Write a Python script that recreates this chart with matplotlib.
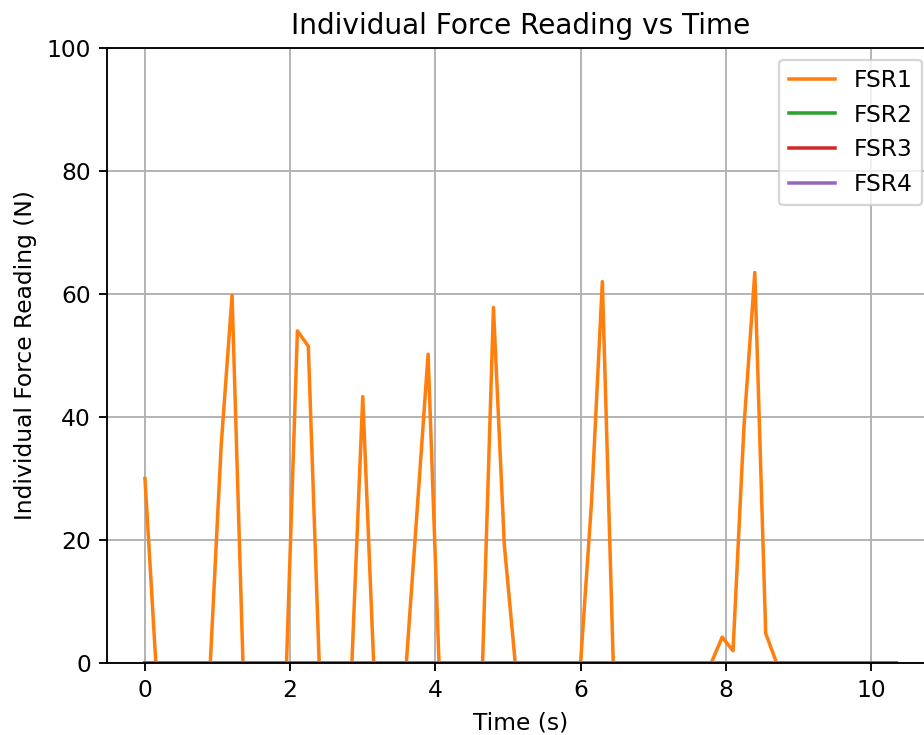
import numpy as np
import matplotlib
matplotlib.use("Agg")
import matplotlib.pyplot as plt

# time samples every 0.15 s
time_s = np.round(np.arange(70) * 0.15, 2)

fsr1 = [30.0, 0, 0, 0, 0, 0, 0, 35.4, 59.8, 0,
        0, 0, 0, 0, 54.0, 51.5, 0, 0, 0, 0,
        43.3, 0, 0, 0, 0, 25.0, 50.2, 0, 0, 0,
        0, 0, 57.8, 19.2, 0, 0, 0, 0, 0, 0,
        0, 26.0, 62.0, 0, 0, 0, 0, 0, 0, 0,
        0, 0, 0, 4.2, 2.0, 38.4, 63.5, 4.8, 0, 0,
        0, 0, 0, 0, 0, 0, 0, 0, 0, 0]
fsr2 = [0] * 70
fsr3 = [0] * 70
fsr4 = [0] * 70

labels = ['FSR1', 'FSR2', 'FSR3', 'FSR4']
colors = ['tab:orange', 'tab:green', 'tab:red', 'tab:purple']

DPI = 168
fig = plt.figure(figsize=(924 / DPI, 735 / DPI), dpi=DPI)
ax = fig.add_axes([0.1162, 0.098, 0.8946, 0.8367])

for vals, lab, col in zip([fsr1, fsr2, fsr3, fsr4], labels, colors):
    ax.plot(time_s, vals, color=col, label=lab)

ax.set_ylim(0, 100)
ax.set_title('Individual Force Reading vs Time')
ax.set_xlabel('Time (s)')
ax.set_ylabel('Individual Force Reading (N)')
ax.grid(True)
ax.legend(loc='upper right')

fig.savefig('out.png', dpi=DPI)
